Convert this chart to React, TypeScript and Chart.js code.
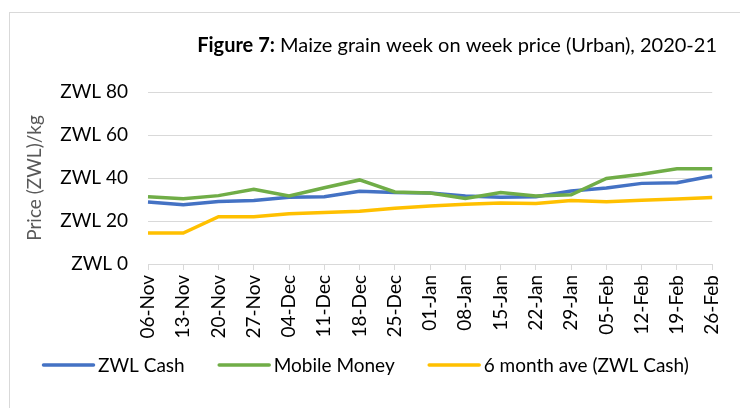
import React, { useEffect, useRef } from "react";
import { Chart, registerables } from "chart.js";

Chart.register(...registerables);

const categories = [
  "06-Nov", "13-Nov", "20-Nov", "27-Nov", "04-Dec", "11-Dec", "18-Dec", "25-Dec",
  "01-Jan", "08-Jan", "15-Jan", "22-Jan", "29-Jan", "05-Feb", "12-Feb", "19-Feb", "26-Feb",
];
const zwlCash = [28.8, 27.6, 29.1, 29.5, 31.0, 31.3, 33.8, 33.2, 33.0, 31.6, 31.0, 31.3, 34.0, 35.3, 37.5, 37.8, 40.9];
const mobileMoney = [31.3, 30.4, 31.8, 34.7, 31.6, 35.5, 39.1, 33.5, 33.0, 30.5, 33.3, 31.6, 32.2, 39.8, 41.7, 44.3, 44.3];
const sixMonthAve = [14.4, 14.4, 22.0, 22.0, 23.4, 24.0, 24.5, 25.9, 27.0, 27.8, 28.4, 28.1, 29.5, 29.0, 29.6, 30.2, 30.9];
const yMin = 0;
const yMax = 80;
const yStep = 20;
const tickPrefix = "ZWL ";
const titleBold = "Figure 7:";
const titleRest = " Maize grain week on week price (Urban), 2020-21";
const yTitle = "Price (ZWL)/kg";
const seriesNames = ["ZWL Cash", "Mobile Money", "6 month ave (ZWL Cash)"];

const FONT = 'Lato, "Noto Sans", sans-serif';
const FS = 19;
const TITLE_FS = 20;

const titlePlugin = {
  id: "mixedTitle",
  afterDraw(chart: any) {
    const ctx = chart.ctx;
    ctx.save();
    ctx.textBaseline = "alphabetic";
    ctx.fillStyle = "#000";
    ctx.font = `bold ${TITLE_FS}px ${FONT}`;
    const w1 = ctx.measureText(titleBold).width;
    ctx.font = `${TITLE_FS}px ${FONT}`;
    const w2 = ctx.measureText(titleRest).width;
    const right = 717;
    const start = right - (w1 + w2);
    ctx.font = `bold ${TITLE_FS}px ${FONT}`;
    ctx.fillText(titleBold, start, 52);
    ctx.font = `${TITLE_FS}px ${FONT}`;
    ctx.fillText(titleRest, start + w1, 52);
    ctx.restore();
  },
};

// Legend drawn from the chart's datasets (blue, green, yellow order)
const legendPlugin = {
  id: "lineLegend",
  afterDraw(chart: any) {
    const ctx = chart.ctx;
    const items = [...chart.data.datasets].reverse();
    const lineLen = 53;
    const textGap = 3;
    const itemGap = 33;
    const cy = 365;
    ctx.save();
    ctx.font = `${FS}px ${FONT}`;
    const widths = items.map((d: any) => lineLen + textGap + ctx.measureText(d.label).width);
    let x = 42;
    items.forEach((d: any, i: number) => {
      ctx.strokeStyle = d.borderColor;
      ctx.lineWidth = 3.5;
      ctx.lineCap = "round";
      ctx.beginPath();
      ctx.moveTo(x + 1.5, cy);
      ctx.lineTo(x + lineLen - 1.5, cy);
      ctx.stroke();
      ctx.fillStyle = "#000";
      ctx.textBaseline = "middle";
      ctx.textAlign = "left";
      ctx.fillText(d.label, x + lineLen + textGap, cy + 1);
      x += widths[i] + itemGap;
    });
    ctx.restore();
  },
};

export default function App() {
  const ref = useRef<HTMLCanvasElement | null>(null);

  useEffect(() => {
    if (!ref.current) return;
    const mk = (label: string, data: number[], color: string) => ({
      label,
      data,
      borderColor: color,
      backgroundColor: color,
      borderWidth: 3.5,
      pointRadius: 0,
      pointHoverRadius: 0,
      tension: 0,
      fill: false,
    });
    const chart = new Chart(ref.current, {
      type: "line",
      data: {
        labels: categories,
        datasets: [
          mk(seriesNames[2], sixMonthAve, "#FFC000"),
          mk(seriesNames[1], mobileMoney, "#70AD47"),
          mk(seriesNames[0], zwlCash, "#4472C4"),
        ],
      },
      options: {
        responsive: false,
        animation: false,
        layout: { padding: { left: 10, right: 24, top: 92, bottom: 69 } },
        plugins: {
          title: { display: false },
          tooltip: { enabled: false },
          legend: { display: false },
        },
        scales: {
          x: {
            offset: false,
            grid: { drawOnChartArea: false, drawTicks: true, tickLength: 6, color: "#d9d9d9" },
            border: { color: "#d9d9d9", width: 1 },
            ticks: {
              autoSkip: false,
              maxRotation: 90,
              minRotation: 90,
              padding: 5,
              color: "#000",
              font: { family: FONT, size: FS },
            },
            afterFit: (s: any) => {
              s.height = 75;
            },
          },
          y: {
            min: yMin,
            max: yMax,
            ticks: {
              stepSize: yStep,
              padding: 20,
              color: "#000",
              font: { family: FONT, size: FS },
              callback: (v: any) => `${tickPrefix}${v}`,
            },
            grid: { color: "#d9d9d9", lineWidth: 1, drawTicks: false },
            border: { display: false },
            title: {
              display: true,
              text: yTitle,
              color: "#595959",
              font: { family: FONT, size: FS },
              padding: { top: 13, bottom: 0 },
            },
            afterFit: (s: any) => {
              s.width = 138;
            },
          },
        },
      },
      plugins: [titlePlugin, legendPlugin],
    });
    return () => chart.destroy();
  }, []);

  return (
    <div
      style={{
        position: "fixed",
        left: 0,
        top: 0,
        width: 740,
        height: 408,
        overflow: "hidden",
        background: "#fff",
      }}
    >
      <div
        style={{
          position: "absolute",
          left: 9,
          top: 12,
          width: 800,
          height: 500,
          border: "1px solid #d9d9d9",
        }}
      />
      <canvas
        ref={ref}
        width={740}
        height={408}
        style={{ position: "absolute", left: 0, top: 0, width: 740, height: 408 }}
      />
    </div>
  );
}
